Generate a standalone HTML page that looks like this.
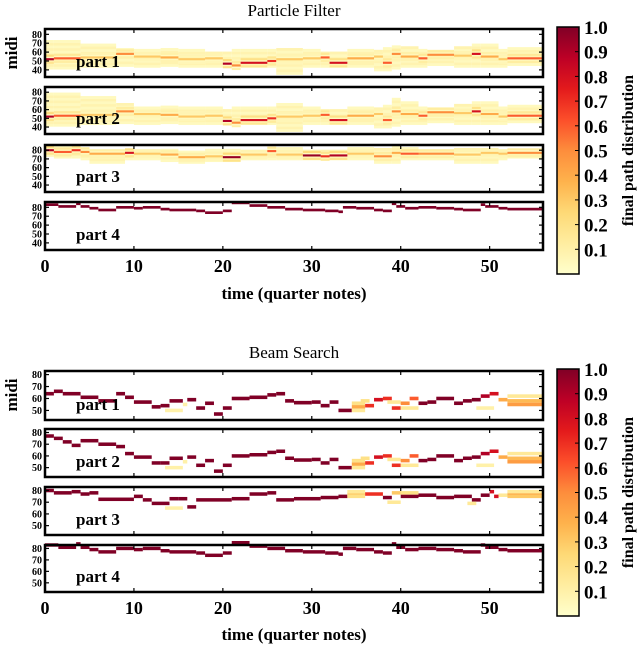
<!DOCTYPE html>
<html><head><meta charset="utf-8"><style>
body{margin:0;background:#fff;}
svg{display:block;font-family:"Liberation Serif",serif;}
</style></head><body>
<svg id="fig" width="640" height="648" viewBox="0 0 640 648" xmlns="http://www.w3.org/2000/svg">
<defs>
<linearGradient id="cmap" x1="0" y1="1" x2="0" y2="0">
<stop offset="0" stop-color="#ffffcc"/><stop offset="0.125" stop-color="#ffeda0"/><stop offset="0.25" stop-color="#fed976"/><stop offset="0.375" stop-color="#feb24c"/><stop offset="0.5" stop-color="#fd8d3c"/><stop offset="0.625" stop-color="#fc4e2a"/><stop offset="0.75" stop-color="#e31a1c"/><stop offset="0.875" stop-color="#bd0026"/><stop offset="1" stop-color="#800026"/>
</linearGradient>
</defs>
</svg>
<script>
// ---- data: notes [start, end, midi, probability] ----
const melody4 = [[0,1.5,83,1],[1.5,3.5,81,1],[3.5,4,84,1],[4,5,81,1],[5,6,79,1],[6,8,77,1],[8,10,80,1],[10,11,79,1],[11,13,80,1],[13,14,78,1],[14,17,77,1],[17,18,76,1],[18,20,74,1],[20,21,76,1],[21,23,85,1],[23,25,82,1],[25,27,80,1],[27,29,78,1],[29,31.5,77,1],[31.5,33,76,1],[33,33.5,75,1],[33.5,35,80,1],[35,37,79,1],[37,38,77,1],[38,39,76,1],[39,39.5,84,1],[39.5,40.5,81,1],[40.5,42,79,1],[42,44,80,1],[44,46,79,1],[46,47,78,1],[47,49,77,1],[49,49.5,83,1],[49.5,51,81,1],[51,52,79,1],[52,56,78,1]];
// particle filter: [start, end, centre midi, centre prob, band low, band high]
const pfPart1 = [[0,1,52,0.9,42,72],[1,4,53,0.6,42,72],[4,8,54,0.3,44,68],[8,10,58,0.5,45,65],[10,13,55,0.3,44,62],[13,15,54,0.4,45,63],[15,18,52,0.3,44,62],[18,20,53,0.3,44,60],[20,21,47,0.9,44,60],[21,22,45,0.5,44,62],[22,25,48,0.8,44,62],[25,26,50,0.7,44,62],[26,29,52,0.3,36,65],[29,31,53,0.3,44,62],[31,32,54,0.6,44,60],[32,34,48,0.8,44,60],[34,37,53,0.4,44,62],[37,38,55,0.3,40,62],[38,39,48,0.6,40,64],[39,40,58,0.5,42,68],[40,42,55,0.4,44,66],[42,43,53,0.6,44,62],[43,46,57,0.5,46,62],[46,48,56,0.3,44,66],[48,49,58,0.8,44,68],[49,51,55,0.4,44,70],[51,52,52,0.3,44,62],[52,56,53,0.6,46,64]];
const pfPart2 = [[0,1,52,0.9,42,80],[1,4,53,0.6,42,78],[4,8,54,0.3,44,74],[8,10,58,0.5,45,68],[10,13,55,0.3,44,64],[13,15,54,0.4,45,63],[15,18,52,0.3,44,62],[18,20,53,0.3,44,62],[20,21,47,0.9,44,60],[21,22,45,0.5,44,62],[22,25,48,0.8,44,64],[25,26,50,0.7,44,62],[26,29,52,0.3,36,66],[29,31,53,0.3,44,62],[31,32,54,0.6,44,60],[32,34,48,0.8,44,60],[34,37,53,0.4,44,62],[37,38,55,0.3,40,62],[38,39,48,0.6,40,64],[39,40,58,0.5,42,72],[40,42,55,0.4,44,68],[42,43,53,0.6,44,62],[43,46,57,0.5,46,62],[46,48,56,0.3,44,66],[48,49,58,0.8,44,68],[49,51,55,0.4,44,70],[51,52,52,0.3,44,62],[52,56,53,0.6,46,64]];
const pfPart3 = [[0,1,80,0.9,74,84],[1,3,78,0.6,72,84],[3,4,80,0.7,72,84],[4,5,78,0.5,70,82],[5,9,76,0.4,66,80],[9,10,77,0.8,70,80],[10,13,76,0.3,70,80],[13,15,75,0.4,68,80],[15,18,72,0.4,66,80],[18,20,73,0.3,68,80],[20,22,72,0.95,68,80],[22,25,75,0.3,70,80],[25,26,79,0.6,70,82],[26,29,75,0.3,70,82],[29,31,74,0.95,70,80],[31,32,73,0.7,70,80],[32,34,74,0.9,70,80],[34,37,76,0.3,70,82],[37,39,73,0.5,66,82],[39,40,77,0.4,66,84],[40,42,76,0.6,70,82],[42,46,76,0.5,70,80],[46,49,75,0.3,66,82],[49,51,77,0.3,66,82],[51,52,76,0.3,70,80],[52,56,77,0.5,72,80]];
// beam search paths
const bsPart1 = [[0,1,64,1],[1,2,66,1],[2,4,64,1],[4,6,61,1],[6,8,58,1],[8,9,64,1],[9,10,61,1],[10,12,57,1],[12,13,53,1],[13,14,54,1],[14,15.5,58,1],[13.5,15.5,50,0.1],[15.5,16,55,0.1],[16,17,59,1],[17,18,52,1],[18,19,56,1],[19,20,47,1],[20,21,52,1],[21,23,60,1],[23,25,61,1],[25,26,63,1],[26,27,64,1],[27,28,58,1],[28,30,56.5,1],[30,31,57,1],[31,32,54,1],[32,33,57,1],[33,34.5,50,1],[34.5,36,53,0.4],[34.5,36,56,0.2],[34.5,36,50,0.15],[35.5,36.5,58,0.2],[36,37,54,0.7],[37,38,59,0.8],[38,39,60,0.7],[39,40,52,0.7],[38.5,40,57,0.15],[40,41,56,0.5],[40,42,52,0.15],[41,42,60,0.6],[42,43,56,1],[43,44,57,1],[44,46,60,1],[46,47,56,1],[47,48,58,1],[48,49,59,1],[49,50,62,0.9],[50,51,64,0.8],[48.5,50.5,52,0.1],[51,52,59,0.4],[52,56,58,0.35],[52,56,55,0.45],[52,56,62,0.15]];
const bsPart2 = [[0,1,77,1],[1,2,75,1],[2,3,72,1],[3,4,69,1],[4,6,73,1],[6,8,70,1],[8,9,68,1],[9,10,62,1],[10,12,59,1],[12,13,54,1],[13,14,54,1],[14,15.5,58,1],[13.5,15.5,50,0.1],[15.5,16,55,0.1],[16,17,59,1],[17,18,52,1],[18,19,56,1],[19,20,47,1],[20,21,52,1],[21,23,60,1],[23,25,61,1],[25,26,63,1],[26,27,64,1],[27,28,58,1],[28,30,56.5,1],[30,31,57,1],[31,32,54,1],[32,33,57,1],[33,34.5,50,1],[34.5,36,53,0.4],[34.5,36,56,0.2],[34.5,36,50,0.15],[35.5,36.5,58,0.2],[36,37,54,0.7],[37,38,59,0.8],[38,39,60,0.7],[39,40,52,0.7],[38.5,40,57,0.15],[40,41,56,0.5],[40,42,52,0.15],[41,42,60,0.6],[42,43,56,1],[43,44,57,1],[44,46,60,1],[46,47,56,1],[47,48,58,1],[48,49,59,1],[49,50,62,0.9],[50,51,64,0.8],[48.5,50.5,52,0.1],[51,52,59,0.4],[52,56,58,0.35],[52,56,55,0.45],[52,56,62,0.15]];
const bsPart3 = [[0,1,80,1],[1,3,78,1],[3,4,79,1],[4,5,77,1],[5,6,78,1],[6,10,72.5,1],[10,11,75,1],[11,12,72,1],[12,14,69,1],[14,15,73,1],[13.5,15.5,65,0.1],[15,16,73,1],[16,17,66,1],[17,21,72,1],[21,23,73,1],[23,25,77,1],[25,26,78,1],[26,28,72,1],[28,31,73,1],[31,33,74,1],[33,34,75,1],[34,36,77,0.3],[34,36,75,0.2],[34,36,79,0.15],[36,38,77,0.7],[38,39,74,1],[38.5,40,70,0.15],[39,40,78,0.3],[40,42,75,1],[40,42,78,0.2],[42,44,76,1],[44,46,74,1],[46,48,75,1],[48,49,72,1],[47.5,48.5,69,0.15],[49,50,76,1],[50,50.5,79,0.8],[50.5,51,75,0.8],[51,52,76,0.15],[52,56,77,0.4],[52,56,75,0.3],[52,56,79,0.15]];
const pfTicks = [40,50,60,70,80];
const bsTicks = [50,60,70,80];
const xTicks = [0,10,20,30,40,50];
const cbTicks = [0.1,0.2,0.3,0.4,0.5,0.6,0.7,0.8,0.9,1.0];
const partLabels = ["part 1","part 2","part 3","part 4"];

const NS="http://www.w3.org/2000/svg";
const svg=document.getElementById('fig');
const X0=45,X1=543,TMAX=56;
function xs(t){return X0+(X1-X0)*t/TMAX;}
const stops=[[255,255,204],[255,237,160],[254,217,118],[254,178,76],[253,141,60],[252,78,42],[227,26,28],[189,0,38],[128,0,38]];
function cmap(p){p=Math.max(0,Math.min(1,p));const f=p*8,i=Math.min(7,Math.floor(f)),r=f-i;const a=stops[i],b=stops[i+1];return 'rgb('+a.map((v,k)=>Math.round(v+(b[k]-v)*r)).join(',')+')';}
function mk(tag,attrs,parent){const e=document.createElementNS(NS,tag);for(const k in attrs)e.setAttribute(k,attrs[k]);(parent||svg).appendChild(e);return e;}
function txt(s,attrs,parent){const e=mk('text',attrs,parent);e.textContent=s;return e;}

function panel(top,bot,ylo,yhi,ticks,label,name){
  const g=mk('g',{});
  
  
  const ys=m=>bot-(bot-top)*(m-ylo)/(yhi-ylo);
  return {g,ys,top,bot,ticks,label};
}
function finish(P){
  const g=P.g;
  const fr=mk('rect',{x:X0,y:P.top,width:X1-X0,height:P.bot-P.top,fill:'none',stroke:'#000','stroke-width':2.5},g);
  
  
  for(const t of xTicks){const x=xs(t);mk('line',{x1:x,x2:x,y1:P.top,y2:P.top+4,stroke:'#000','stroke-width':1.2},g);mk('line',{x1:x,x2:x,y1:P.bot,y2:P.bot-4,stroke:'#000','stroke-width':1.2},g);}
  for(const m of P.ticks){const y=P.ys(m);mk('line',{x1:X0,x2:X0+4,y1:y,y2:y,stroke:'#000','stroke-width':1.2},g);mk('line',{x1:X1,x2:X1-4,y1:y,y2:y,stroke:'#000','stroke-width':1.2},g);
    const tl=txt(String(m),{x:X0-3,y:y+3.5,'font-size':10,'font-weight':'bold','text-anchor':'end'},g);
    
    }
  const lb=txt(P.label,{x:76,y:P.bot-10,'font-size':17,'font-weight':'bold'},g);
  
  
}
function cell(P,t0,t1,m,p,h){
  const r=mk('rect',{x:xs(t0),y:P.ys(m+h/2),width:xs(t1)-xs(t0),height:P.ys(m-h/2)-P.ys(m+h/2),fill:cmap(p)},P.g);
  
  
}
function drawPF(P,data){
  for(const d of data){
    for(let m=d[4];m<=d[5];m+=3){cell(P,d[0],d[1],m,0.04+0.04*(((m-d[4])/3)%2),3.2);}
  }
  for(const d of data){cell(P,d[0],d[1],d[2]+4,d[3]*0.25,2.4);cell(P,d[0],d[1],d[2]-4,d[3]*0.2,2.4);}
  for(const d of data){cell(P,d[0],d[1],d[2],d[3],2.4);}
}
function drawPath(P,data){for(const d of data)cell(P,d[0],d[1],d[2],d[3],3.0);}

function xaxis(y,lblY){
  for(const t of xTicks){const e=txt(String(t),{x:xs(t),y:y,'font-size':18,'font-weight':'bold','text-anchor':'middle'});
    
    }
  const l=txt('time (quarter notes)',{x:294,y:lblY,'font-size':17,'font-weight':'bold','text-anchor':'middle'});
  
  
}
function colorbar(top,bot,name){
  const g=mk('g',{});
  
  
  mk('rect',{x:557,y:top,width:22,height:bot-top,fill:'url(#cmap)',stroke:'#000','stroke-width':1.5},g);
  for(const v of cbTicks){const y=bot-(bot-top)*v;mk('line',{x1:575,x2:579,y1:y,y2:y,stroke:'#000'},g);
    const e=txt(v.toFixed(1),{x:584,y:y+7,'font-size':19,'font-weight':'bold'},g);
    
    }
  const l=txt('final path distribution',{x:0,y:0,'font-size':16,'font-weight':'bold','text-anchor':'middle',transform:'translate(633,'+((top+bot)/2)+') rotate(-90)'},g);
  
  
}

const pfBounds=[[29,77],[87,134],[145,192],[202,250]];
const pfData=[pfPart1,pfPart2,pfPart3];
pfBounds.forEach((b,i)=>{const P=panel(b[0],b[1],32,86,pfTicks,partLabels[i],'pf-panel-'+(i+1));
  if(i<3)drawPF(P,pfData[i]);else drawPath(P,melody4);finish(P);});
const t1=txt('Particle Filter',{x:294,y:16,'font-size':17,'text-anchor':'middle'});


const m1=txt('midi',{x:0,y:0,'font-size':17,'font-weight':'bold','text-anchor':'middle',transform:'translate(17,53) rotate(-90)'});


xaxis(272,299);
colorbar(27,274,'pf-colorbar');

const bsBounds=[[371,420],[429,477],[487,535],[545,592]];
const bsData=[bsPart1,bsPart2,bsPart3,melody4];
bsBounds.forEach((b,i)=>{const P=panel(b[0],b[1],42,83,bsTicks,partLabels[i],'bs-panel-'+(i+1));
  drawPath(P,bsData[i]);finish(P);});
const t2=txt('Beam Search',{x:294,y:358,'font-size':17,'text-anchor':'middle'});


const m2=txt('midi',{x:0,y:0,'font-size':17,'font-weight':'bold','text-anchor':'middle',transform:'translate(17,395) rotate(-90)'});


xaxis(614,640);
colorbar(369,616,'bs-colorbar');
</script>
</body></html>
